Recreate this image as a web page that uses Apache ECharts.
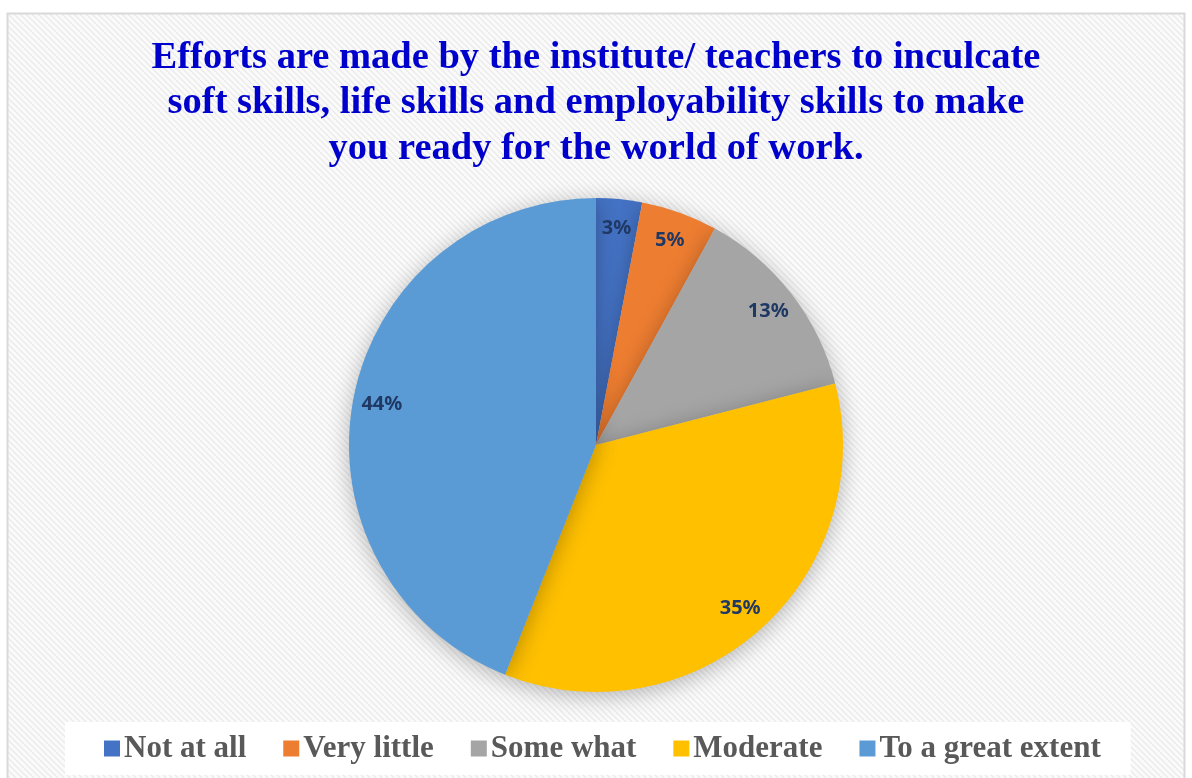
<!DOCTYPE html>
<html lang="en">
<head>
    <meta charset="UTF-8">
    <title>Soft skills survey pie</title>
    <style>
        html, body { margin: 0; padding: 0; background: #ffffff; }
    </style>
</head>
<body>
<div style="width: 1192px;height: 778px;" id="pieChart"></div>
<script src="https://cdn.jsdelivr.net/npm/echarts@6.0.0/dist/echarts.min.js"></script>
<script type="text/javascript">
  const titleText = 'Efforts are made by the institute/ teachers to inculcate\nsoft skills, life skills and employability skills to make\nyou ready for the world of work.';
  const categories = ['Not at all', 'Very little', 'Some what', 'Moderate', 'To a great extent'];
  const percents = [3, 5, 13, 35, 44];
  const sliceColors = ['#4472C4', '#ED7D31', '#A5A5A5', '#FFC000', '#5B9BD5'];

  // diagonal hatch used for the chart area background
  function makeHatch() {
    const c = document.createElement('canvas');
    c.width = 6;
    c.height = 6;
    const ctx = c.getContext('2d');
    ctx.fillStyle = '#fbfbfb';
    ctx.fillRect(0, 0, 6, 6);
    ctx.strokeStyle = '#ebebeb';
    ctx.lineWidth = 1.5;
    ctx.beginPath();
    ctx.moveTo(-1, -1);
    ctx.lineTo(7, 7);
    ctx.moveTo(-4, 2);
    ctx.lineTo(4, 10);
    ctx.moveTo(2, -4);
    ctx.lineTo(10, 4);
    ctx.stroke();
    return c;
  }

  const pieData = categories.map(function(name, i) {
    return {name: name, value: percents[i], itemStyle: {color: sliceColors[i]}};
  });

  const option = {
    animation: false,
    graphic: [
      {
        type: 'rect',
        z: -10,
        silent: true,
        shape: {x: 7.5, y: 13.5, width: 1177, height: 790},
        style: {
          fill: {image: makeHatch(), repeat: 'repeat'},
          stroke: '#d9d9d9',
          lineWidth: 2,
        },
      },
    ],
    title: {
      text: titleText,
      left: 'center',
      top: 35,
      padding: 0,
      textStyle: {
        fontFamily: 'Liberation Serif',
        fontWeight: 'bold',
        fontSize: 38.5,
        lineHeight: 45.5,
        color: '#0000CC',
        align: 'center',
      },
    },
    legend: {
      data: categories,
      left: 65,
      top: 722,
      backgroundColor: '#ffffff',
      padding: [11, 30, 11, 39],
      itemWidth: 16,
      itemHeight: 16,
      itemGap: 37,
      icon: 'rect',
      textStyle: {
        fontFamily: 'Liberation Serif',
        fontWeight: 'bold',
        fontSize: 31,
        color: '#595959',
        padding: [0, 0, 0, -1],
      },
    },
    series: [
      {
        name: 'Efforts',
        type: 'pie',
        center: [596, 445],
        radius: [0, 247],
        startAngle: 90,
        clockwise: true,
        data: pieData,
        label: {show: false},
        labelLine: {show: false},
        emphasis: {disabled: true},
        itemStyle: {
          shadowBlur: 22,
          shadowColor: 'rgba(0,0,0,0.28)',
          shadowOffsetY: 4,
        },
      },
      {
        // transparent ring that only carries the percentage labels
        name: 'labels',
        type: 'pie',
        center: [596, 445],
        radius: [183, 247],
        startAngle: 90,
        clockwise: true,
        silent: true,
        data: categories.map(function(name, i) {
          return {name: name, value: percents[i], itemStyle: {color: 'rgba(0,0,0,0)'}};
        }),
        label: {
          show: true,
          position: 'inside',
          formatter: '{c}%',
          fontFamily: 'Noto Sans',
          fontWeight: 'bold',
          fontSize: 20,
          color: '#1F3864',
        },
        labelLine: {show: false},
        emphasis: {disabled: true},
      },
    ],
  };

  const chart = echarts.init(document.getElementById('pieChart'));
  chart.setOption(option);
</script>
</body>
</html>
